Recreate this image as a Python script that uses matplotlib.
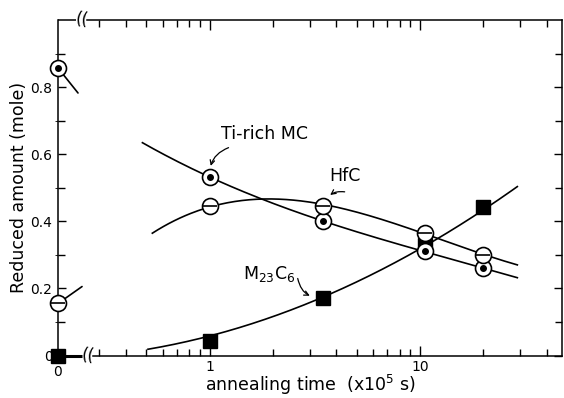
import numpy as np
import matplotlib
matplotlib.use("Agg")
import matplotlib.pyplot as plt
from matplotlib.ticker import FixedLocator, FixedFormatter, NullFormatter

# ---------------- data ----------------
t_points = [1.0, 3.45, 10.6, 20.0]          # annealing time (x10^5 s)
ti_mc = [0.533, 0.40, 0.31, 0.26]            # Ti-rich MC
hfc = [0.446, 0.446, 0.366, 0.30]            # HfC
m23c6 = [0.042, 0.17, 0.33, 0.443]           # M23C6

zero_ti_mc = 0.857
zero_hfc = 0.155
zero_m23c6 = 0.0

# smooth trend curves
ti_curve_t = [0.48, 1.0, 3.45, 10.6, 20.0, 29.0]
ti_curve_y = [0.634, 0.533, 0.40, 0.31, 0.26, 0.232]
hfc_curve_t = [0.535, 1.0, 1.9, 3.45, 10.6, 20.0, 29.0]
hfc_curve_y = [0.363, 0.446, 0.467, 0.446, 0.366, 0.30, 0.27]
m_curve_t = [0.51, 1.0, 3.45, 10.6, 20.0, 29.0]
m_curve_y = [0.03, 0.042, 0.17, 0.34, 0.443, 0.49]

y_major = [0, 0.2, 0.4, 0.6, 0.8]
y_major_labels = ["0", "0.2", "0.4", "0.6", "0.8"]
y_minor = [0.1, 0.3, 0.5, 0.7, 0.9]
x_major = [1, 10]
x_major_labels = ["1", "10"]
x_minor = [0.3, 0.4, 0.5, 0.6, 0.7, 0.8, 0.9, 2, 3, 4, 5, 6, 7, 8, 9, 20, 30, 40]

# ---------------- figure ----------------
plt.rcParams['font.family'] = ['DejaVu Sans']
plt.rcParams['mathtext.default'] = 'regular'
W, H = 564, 398
fig = plt.figure(figsize=(W / 100, H / 100), dpi=100)
L, R, T, B = 58, 562, 20, 355.5
rect = [L / W, 1 - B / H, (R - L) / W, (B - T) / H]
ax = fig.add_axes(rect)

lw = 1.2
ax.set_xscale('log')
ax.set_xlim(0.1906, 47.27)
ax.set_ylim(0, 1.0)

for s in ax.spines.values():
    s.set_linewidth(1.1)
ax.spines['bottom'].set_bounds(0.2796, 47.27)
ax.spines['top'].set_bounds(0.262, 47.27)
# short spine pieces left of the breaks
ax.plot([0, (82 - L) / (R - L)], [0, 0], transform=ax.transAxes, color='k',
        lw=2.2, clip_on=False, solid_capstyle='butt')
ax.plot([0, (76 - L) / (R - L)], [1, 1], transform=ax.transAxes, color='k',
        lw=1.1, clip_on=False, solid_capstyle='butt')
ax.text((87.5 - L) / (R - L), 0, "((", transform=ax.transAxes, ha='center',
        va='center', fontsize=12, rotation=-8)
ax.text((81.5 - L) / (R - L), 1, "((", transform=ax.transAxes, ha='center',
        va='center', fontsize=12, rotation=-8)

ax.xaxis.set_major_locator(FixedLocator(x_major))
ax.xaxis.set_major_formatter(FixedFormatter(x_major_labels))
ax.xaxis.set_minor_locator(FixedLocator(x_minor))
ax.xaxis.set_minor_formatter(NullFormatter())
ax.yaxis.set_major_locator(FixedLocator(y_major))
ax.yaxis.set_major_formatter(FixedFormatter(y_major_labels))
ax.yaxis.set_minor_locator(FixedLocator(y_minor))

ax.tick_params(which='both', direction='in', top=True, right=True,
               width=1.0, labelsize=10, pad=4)
ax.tick_params(which='major', length=6)
ax.tick_params(which='minor', length=5)
ax.tick_params(axis='x', which='major', length=7, pad=3.5)

ax.set_ylabel("Reduced amount (mole)", fontsize=12.5, labelpad=2)
ax.set_xlabel("annealing time  (x10$^5$ s)", fontsize=12.5, labelpad=-1)


def smooth(tc, yc, deg=3):
    lx = np.log10(tc)
    c = np.polyfit(lx, yc, deg)
    xx = np.linspace(lx[0], lx[-1], 200)
    return 10 ** xx, np.polyval(c, xx)


for tc, yc, dg in [(ti_curve_t, ti_curve_y, 3), (hfc_curve_t, hfc_curve_y, 3),
                   (m_curve_t, m_curve_y, 2)]:
    xs, ys = smooth(tc, yc, dg)
    ax.plot(xs, ys, color='k', lw=lw, zorder=2)

ms_c = 11.5
ax.plot(t_points, m23c6, 's', color='k', ms=9.5, zorder=3)
ax.plot(t_points, ti_mc, 'o', mfc='white', mec='k', mew=1.2, ms=ms_c, zorder=4)
ax.plot(t_points, ti_mc, 'o', color='k', ms=4, zorder=5)
ax.plot(t_points, hfc, 'o', mfc='white', mec='k', mew=1.2, ms=ms_c, zorder=4)
ax.plot(t_points, hfc, '_', color='k', mew=1.2, ms=ms_c - 1, zorder=5)

# labels with wavy-ish arrows
ax.annotate("Ti-rich MC", xy=(t_points[0], ti_mc[0]), xytext=(39.6, 31),
            textcoords='offset points', ha='center', va='center', fontsize=12.5)
ax.annotate("", xy=(t_points[0], ti_mc[0]), xytext=(13.7, 20.9),
            textcoords='offset points',
            arrowprops=dict(arrowstyle='->', lw=0.9, shrinkA=0, shrinkB=7.8,
                            connectionstyle='arc3,rad=0.35', mutation_scale=8))
ax.annotate("HfC", xy=(t_points[1], hfc[1]), xytext=(15.8, 21.6),
            textcoords='offset points', ha='center', va='center', fontsize=12.5)
ax.annotate("", xy=(t_points[1], hfc[1]), xytext=(15.8, 10.1),
            textcoords='offset points',
            arrowprops=dict(arrowstyle='->', lw=0.9, shrinkA=0, shrinkB=9.5,
                            connectionstyle='arc3,rad=0.4', mutation_scale=8))
ax.annotate("M$_{23}$C$_6$", xy=(t_points[1], m23c6[1]), xytext=(-38.2, 17.3),
            textcoords='offset points', ha='center', va='center', fontsize=12.5)
ax.annotate("", xy=(t_points[1], m23c6[1]), xytext=(-18, 14.4),
            textcoords='offset points',
            arrowprops=dict(arrowstyle='->', lw=0.9, shrinkA=0, shrinkB=9.5,
                            connectionstyle='arc3,rad=0.4', mutation_scale=8))

# ---------------- the "0" time column on its own linear axes ----------------
ax0 = fig.add_axes(rect, sharey=ax)
ax0.set_xlim(0, 1)
ax0.patch.set_visible(False)
for s in ax0.spines.values():
    s.set_visible(False)
ax0.set_xticks([0])
ax0.set_xticklabels(["0"])
ax0.tick_params(axis='x', length=0, labelsize=10, pad=7)
ax0.tick_params(axis='y', left=False, labelleft=False)

ax0.plot([0], [zero_m23c6], 's', color='k', ms=9.5, clip_on=False, zorder=6)
ax0.plot([0], [zero_ti_mc], 'o', mfc='white', mec='k', mew=1.2, ms=ms_c,
         clip_on=False, zorder=6)
ax0.plot([0], [zero_ti_mc], 'o', color='k', ms=4, clip_on=False, zorder=7)
ax0.plot([0], [zero_hfc], 'o', mfc='white', mec='k', mew=1.2, ms=ms_c,
         clip_on=False, zorder=6)
ax0.plot([0], [zero_hfc], '_', color='k', mew=1.2, ms=ms_c - 1,
         clip_on=False, zorder=7)
# short stubs showing the curve direction from the zero-time points
ax0.annotate("", xy=(0, zero_ti_mc), xytext=(14.4, -18),
             textcoords='offset points', annotation_clip=False,
             arrowprops=dict(arrowstyle='-', lw=lw, shrinkA=0, shrinkB=0))
ax0.annotate("", xy=(0, zero_hfc), xytext=(17.3, 12.2),
             textcoords='offset points', annotation_clip=False,
             arrowprops=dict(arrowstyle='-', lw=lw, shrinkA=0, shrinkB=0))

fig.savefig("out.png", dpi=100)
